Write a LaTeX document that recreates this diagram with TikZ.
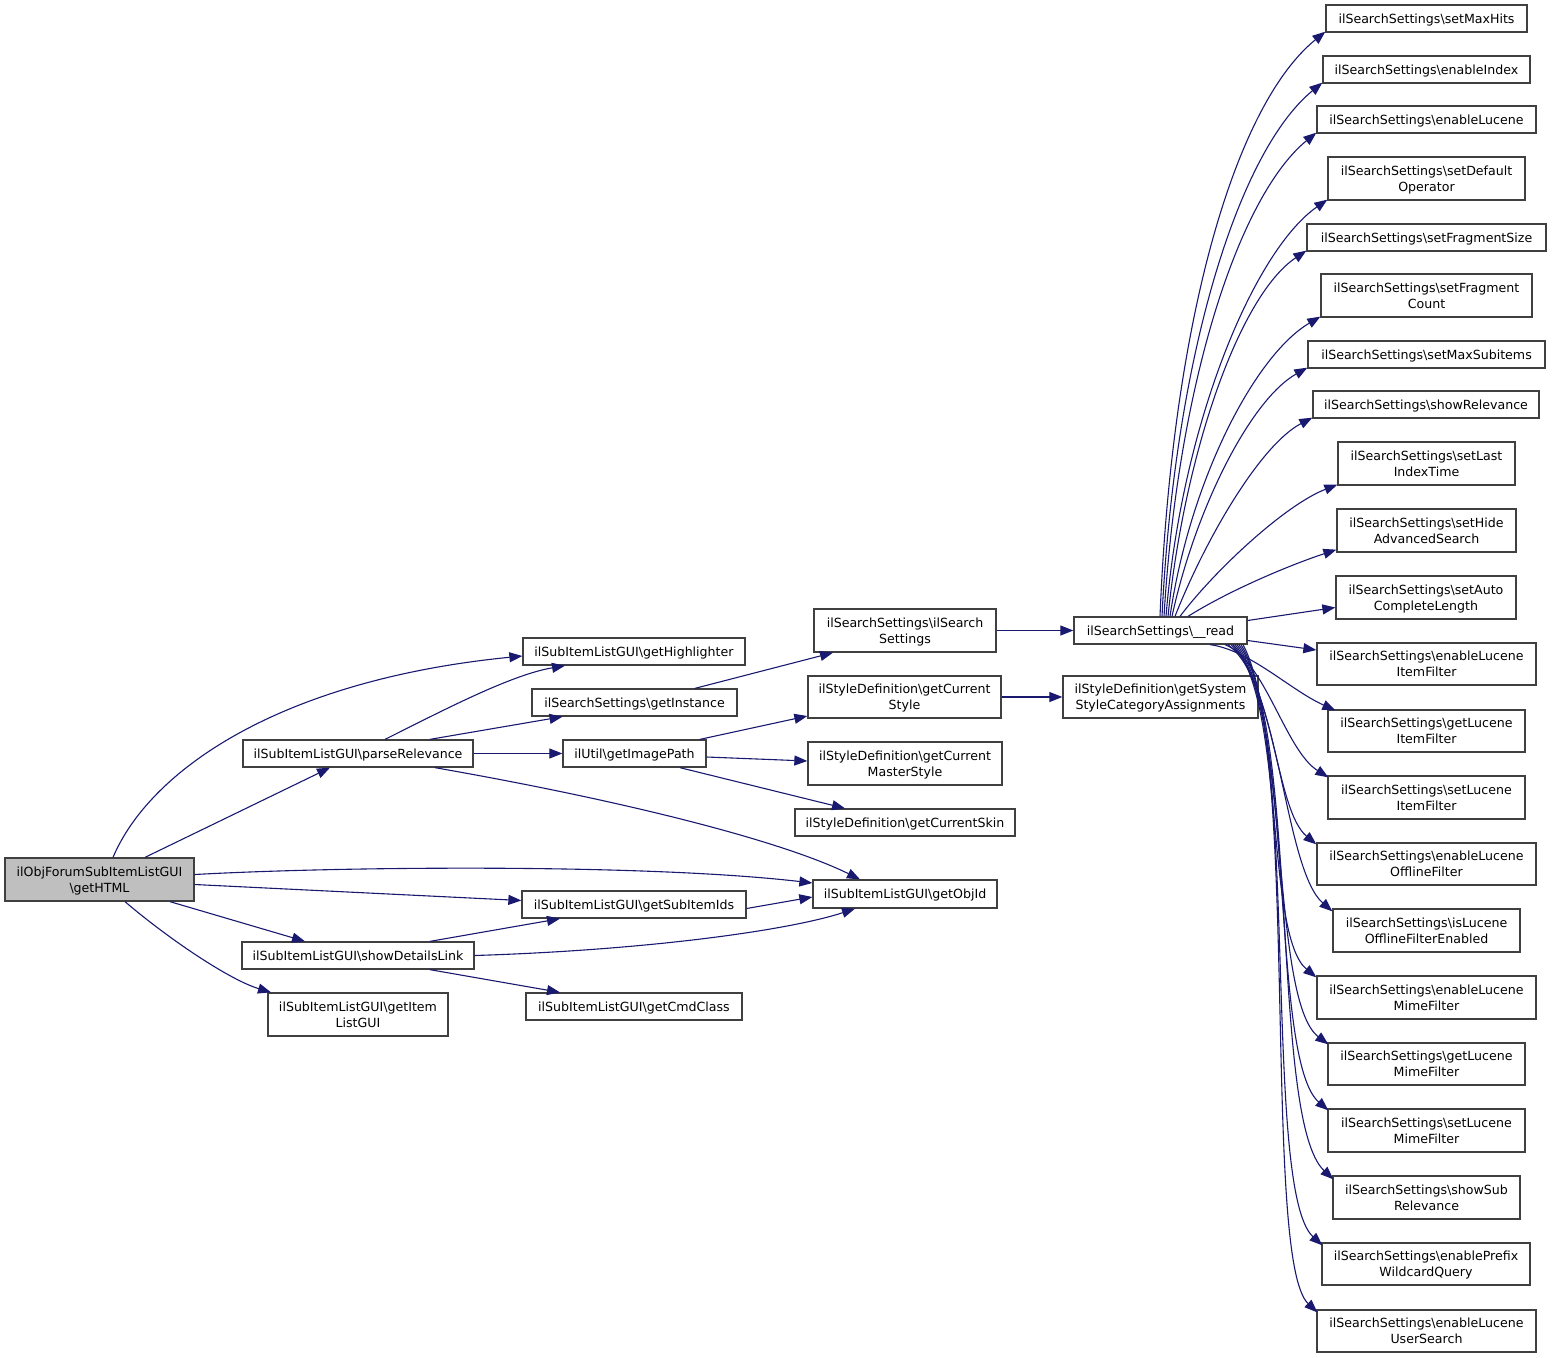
\documentclass[tikz,border=0pt]{standalone}
\usepackage{fontspec}
\setmainfont{DejaVu Sans}
\usetikzlibrary{arrows.meta}
\definecolor{edgecol}{HTML}{191970}
\definecolor{boxcol}{HTML}{404040}
\definecolor{mainfill}{HTML}{BFBFBF}
\newcommand{\bs}{\textbackslash}
\begin{document}
\begin{tikzpicture}[x=1pt,y=-1pt,
  box/.style={draw=boxcol, line width=1.3pt, fill=white, inner sep=0pt, align=center,
    text depth=0pt, font=\fontsize{12.6}{16}\selectfont},
  edge/.style={draw=edgecol, line width=1.1pt, -{Triangle[length=13pt,width=10pt]}}]
\useasboundingbox (0,0) rectangle (1552,1357);

% left part
\node[box, fill=mainfill, minimum width=189pt, minimum height=43pt] (main) at (99.5,879.5) {ilObjForumSubItemListGUI\\\bs getHTML};
\node[box, minimum width=230pt, minimum height=27pt] (parse) at (358,753.5) {ilSubItemListGUI\bs parseRelevance};
\node[box, minimum width=232pt, minimum height=27pt] (showdet) at (358,955.5) {ilSubItemListGUI\bs showDetailsLink};
\node[box, minimum width=180pt, minimum height=43pt] (getitem) at (358,1014.5) {ilSubItemListGUI\bs getItem\\ListGUI};
\node[box, minimum width=222pt, minimum height=27pt] (gethigh) at (634,651.5) {ilSubItemListGUI\bs getHighlighter};
\node[box, minimum width=205pt, minimum height=27pt] (getinst) at (634.5,702.5) {ilSearchSettings\bs getInstance};
\node[box, minimum width=143pt, minimum height=27pt] (getimg) at (634.5,753.5) {ilUtil\bs getImagePath};
\node[box, minimum width=224pt, minimum height=27pt] (getsub) at (634,904.5) {ilSubItemListGUI\bs getSubItemIds};
\node[box, minimum width=216pt, minimum height=27pt] (getcmd) at (634,1006.5) {ilSubItemListGUI\bs getCmdClass};
\node[box, minimum width=184pt, minimum height=28pt] (getobj) at (905,894) {ilSubItemListGUI\bs getObjId};
\node[box, minimum width=182pt, minimum height=43pt] (ilss) at (905,630.5) {ilSearchSettings\bs ilSearch\\Settings};
\node[box, minimum width=193pt, minimum height=42pt] (curstyle) at (904.5,697) {ilStyleDefinition\bs getCurrent\\Style};
\node[box, minimum width=194pt, minimum height=43pt] (curmaster) at (905,763.5) {ilStyleDefinition\bs getCurrent\\MasterStyle};
\node[box, minimum width=220pt, minimum height=27pt] (curskin) at (905,822.5) {ilStyleDefinition\bs getCurrentSkin};
\node[box, minimum width=173pt, minimum height=27pt] (read) at (1160.5,630.5) {ilSearchSettings\bs\_\_read};
\node[box, minimum width=195pt, minimum height=42pt] (getsys) at (1160.5,697) {ilStyleDefinition\bs getSystem\\StyleCategoryAssignments};

% right column
\node[box, minimum width=201pt, minimum height=27pt] (r1) at (1426.5,18.5) {ilSearchSettings\bs setMaxHits};
\node[box, minimum width=207pt, minimum height=27pt] (r2) at (1426.5,69.5) {ilSearchSettings\bs enableIndex};
\node[box, minimum width=219pt, minimum height=27pt] (r3) at (1426.5,119.5) {ilSearchSettings\bs enableLucene};
\node[box, minimum width=197pt, minimum height=43pt] (r4) at (1426.5,178.5) {ilSearchSettings\bs setDefault\\Operator};
\node[box, minimum width=239pt, minimum height=27pt] (r5) at (1426.5,237.5) {ilSearchSettings\bs setFragmentSize};
\node[box, minimum width=211pt, minimum height=43pt] (r6) at (1426.5,295.5) {ilSearchSettings\bs setFragment\\Count};
\node[box, minimum width=237pt, minimum height=27pt] (r7) at (1426.5,354.5) {ilSearchSettings\bs setMaxSubitems};
\node[box, minimum width=226pt, minimum height=27pt] (r8) at (1426,404.5) {ilSearchSettings\bs showRelevance};
\node[box, minimum width=177pt, minimum height=43pt] (r9) at (1426.5,463.5) {ilSearchSettings\bs setLast\\IndexTime};
\node[box, minimum width=179pt, minimum height=43pt] (r10) at (1426.5,530.5) {ilSearchSettings\bs setHide\\AdvancedSearch};
\node[box, minimum width=180pt, minimum height=43pt] (r11) at (1426,597.5) {ilSearchSettings\bs setAuto\\CompleteLength};
\node[box, minimum width=219pt, minimum height=42pt] (r12) at (1426.5,664) {ilSearchSettings\bs enableLucene\\ItemFilter};
\node[box, minimum width=197pt, minimum height=42pt] (r13) at (1426.5,731) {ilSearchSettings\bs getLucene\\ItemFilter};
\node[box, minimum width=197pt, minimum height=43pt] (r14) at (1426.5,797.5) {ilSearchSettings\bs setLucene\\ItemFilter};
\node[box, minimum width=219pt, minimum height=42pt] (r15) at (1426.5,864) {ilSearchSettings\bs enableLucene\\OfflineFilter};
\node[box, minimum width=187pt, minimum height=43pt] (r16) at (1426.5,930.5) {ilSearchSettings\bs isLucene\\OfflineFilterEnabled};
\node[box, minimum width=219pt, minimum height=43pt] (r17) at (1426.5,997.5) {ilSearchSettings\bs enableLucene\\MimeFilter};
\node[box, minimum width=197pt, minimum height=42pt] (r18) at (1426.5,1064) {ilSearchSettings\bs getLucene\\MimeFilter};
\node[box, minimum width=197pt, minimum height=43pt] (r19) at (1426.5,1130.5) {ilSearchSettings\bs setLucene\\MimeFilter};
\node[box, minimum width=187pt, minimum height=43pt] (r20) at (1426.5,1197.5) {ilSearchSettings\bs showSub\\Relevance};
\node[box, minimum width=208pt, minimum height=42pt] (r21) at (1426,1264) {ilSearchSettings\bs enablePrefix\\WildcardQuery};
\node[box, minimum width=219pt, minimum height=42pt] (r22) at (1426.5,1331) {ilSearchSettings\bs enableLucene\\UserSearch};

% edges from main
\draw[edge] ([xshift=45.5pt]main.north) -- ([xshift=-28pt]parse.south);
\draw[edge] ([xshift=13.5pt]main.north) .. controls (150,770) and (280,680) .. ([yshift=-4.5pt]gethigh.west);
\draw[edge] ([yshift=5pt]main.east) .. controls (350,866) and (650,864) .. ([yshift=11pt]getobj.west);
\draw[edge] ([yshift=-5pt]main.east) -- ([yshift=4pt]getsub.west);
\draw[edge] ([xshift=70.5pt]main.south) -- ([xshift=-53pt]showdet.north);
\draw[edge] ([xshift=25.5pt]main.south) .. controls (170,940) and (230,980) .. ([xshift=-87pt]getitem.north);

% edges from parseRelevance
\draw[edge] ([xshift=27pt]parse.north) .. controls (440,712) and (510,675) .. ([xshift=-69pt]gethigh.south);
\draw[edge] ([xshift=72pt]parse.north) -- ([xshift=-72pt]getinst.south);
\draw[edge] (parse.east) -- (getimg.west);
\draw[edge] ([xshift=77pt]parse.south) .. controls (620,800) and (780,840) .. ([xshift=-45pt]getobj.north);

% edges from showDetailsLink
\draw[edge] ([xshift=72pt]showdet.north) -- ([xshift=-74pt]getsub.south);
\draw[edge] (showdet.east) .. controls (650,950) and (790,930) .. ([xshift=-50pt]getobj.south);
\draw[edge] ([xshift=72pt]showdet.south) -- ([xshift=-74pt]getcmd.north);

\draw[edge] ([yshift=-4pt]getsub.east) -- ([yshift=-3pt]getobj.west);
\draw[edge] ([xshift=60.5pt]getinst.north) -- ([xshift=-72pt]ilss.south);
\draw[edge] ([xshift=65.5pt]getimg.north) -- ([yshift=-19pt]curstyle.west);
\draw[edge] ([yshift=-3.5pt]getimg.east) -- ([yshift=2.5pt]curmaster.west);
\draw[edge] ([xshift=45.5pt]getimg.south) -- ([xshift=-60pt]curskin.north);
\draw[edge] (ilss.east) -- (read.west);
\draw[edge] (curstyle.east) -- (getsys.west);

% edges from __read (upper)
\draw[edge] ([xshift=-0.5pt]read.north) .. controls (1172,320) and (1235,105) .. ([yshift=1pt]r1.south west);
\draw[edge] ([xshift=1.5pt]read.north) .. controls (1175,350) and (1240,150) .. ([yshift=1pt]r2.south west);
\draw[edge] ([xshift=3.5pt]read.north) .. controls (1178,380) and (1240,195) .. ([yshift=1pt]r3.south west);
\draw[edge] ([xshift=5.5pt]read.north) .. controls (1182,420) and (1255,250) .. ([yshift=1pt]r4.south west);
\draw[edge] ([xshift=7.5pt]read.north) .. controls (1185,450) and (1240,295) .. ([yshift=1pt]r5.south west);
\draw[edge] ([xshift=9.5pt]read.north) .. controls (1190,480) and (1255,355) .. ([yshift=1pt]r6.south west);
\draw[edge] ([xshift=11.5pt]read.north) .. controls (1195,510) and (1250,400) .. ([yshift=1pt]r7.south west);
\draw[edge] ([xshift=14.5pt]read.north) .. controls (1205,540) and (1260,445) .. ([yshift=1pt]r8.south west);
\draw[edge] ([xshift=19.5pt]read.north) .. controls (1215,570) and (1285,505) .. ([yshift=1pt]r9.south west);
\draw[edge] ([xshift=27.5pt]read.north) .. controls (1230,590) and (1290,565) .. ([yshift=3pt]r10.south west);
\draw[edge] ([yshift=10pt]read.east) -- ([yshift=-10pt]r11.west);
\draw[edge] ([yshift=-10pt]read.east) -- ([yshift=14pt]r12.west);

% edges from __read (lower)
\draw[edge] ([xshift=49.5pt]read.south) .. controls (1250,650) and (1290,690) .. ([xshift=8pt,yshift=-1pt]r13.north west);
\draw[edge] ([xshift=64.5pt]read.south) .. controls (1265,660) and (1285,750) .. ([xshift=1pt,yshift=-2pt]r14.north west);
\draw[edge] ([xshift=67.5pt]read.south) .. controls (1275,680) and (1275,810) .. ([yshift=-2pt]r15.north west);
\draw[edge] ([xshift=70.5pt]read.south) .. controls (1280,690) and (1285,870) .. ([xshift=0pt,yshift=-3pt]r16.north west);
\draw[edge] ([xshift=72.5pt]read.south) .. controls (1285,700) and (1265,935) .. ([yshift=-2pt]r17.north west);
\draw[edge] ([xshift=74.5pt]read.south) .. controls (1290,710) and (1270,1000) .. ([xshift=1pt,yshift=-2pt]r18.north west);
\draw[edge] ([xshift=76.5pt]read.south) .. controls (1295,720) and (1270,1060) .. ([xshift=1pt,yshift=-2pt]r19.north west);
\draw[edge] ([xshift=78.5pt]read.south) .. controls (1300,730) and (1270,1120) .. ([xshift=1pt,yshift=-4pt]r20.north west);
\draw[edge] ([xshift=80.5pt]read.south) .. controls (1300,740) and (1262,1190) .. ([xshift=1pt,yshift=-3pt]r21.north west);
\draw[edge] ([xshift=82.5pt]read.south) .. controls (1300,750) and (1262,1260) .. ([xshift=1pt,yshift=-3pt]r22.north west);
\end{tikzpicture}
\end{document}
